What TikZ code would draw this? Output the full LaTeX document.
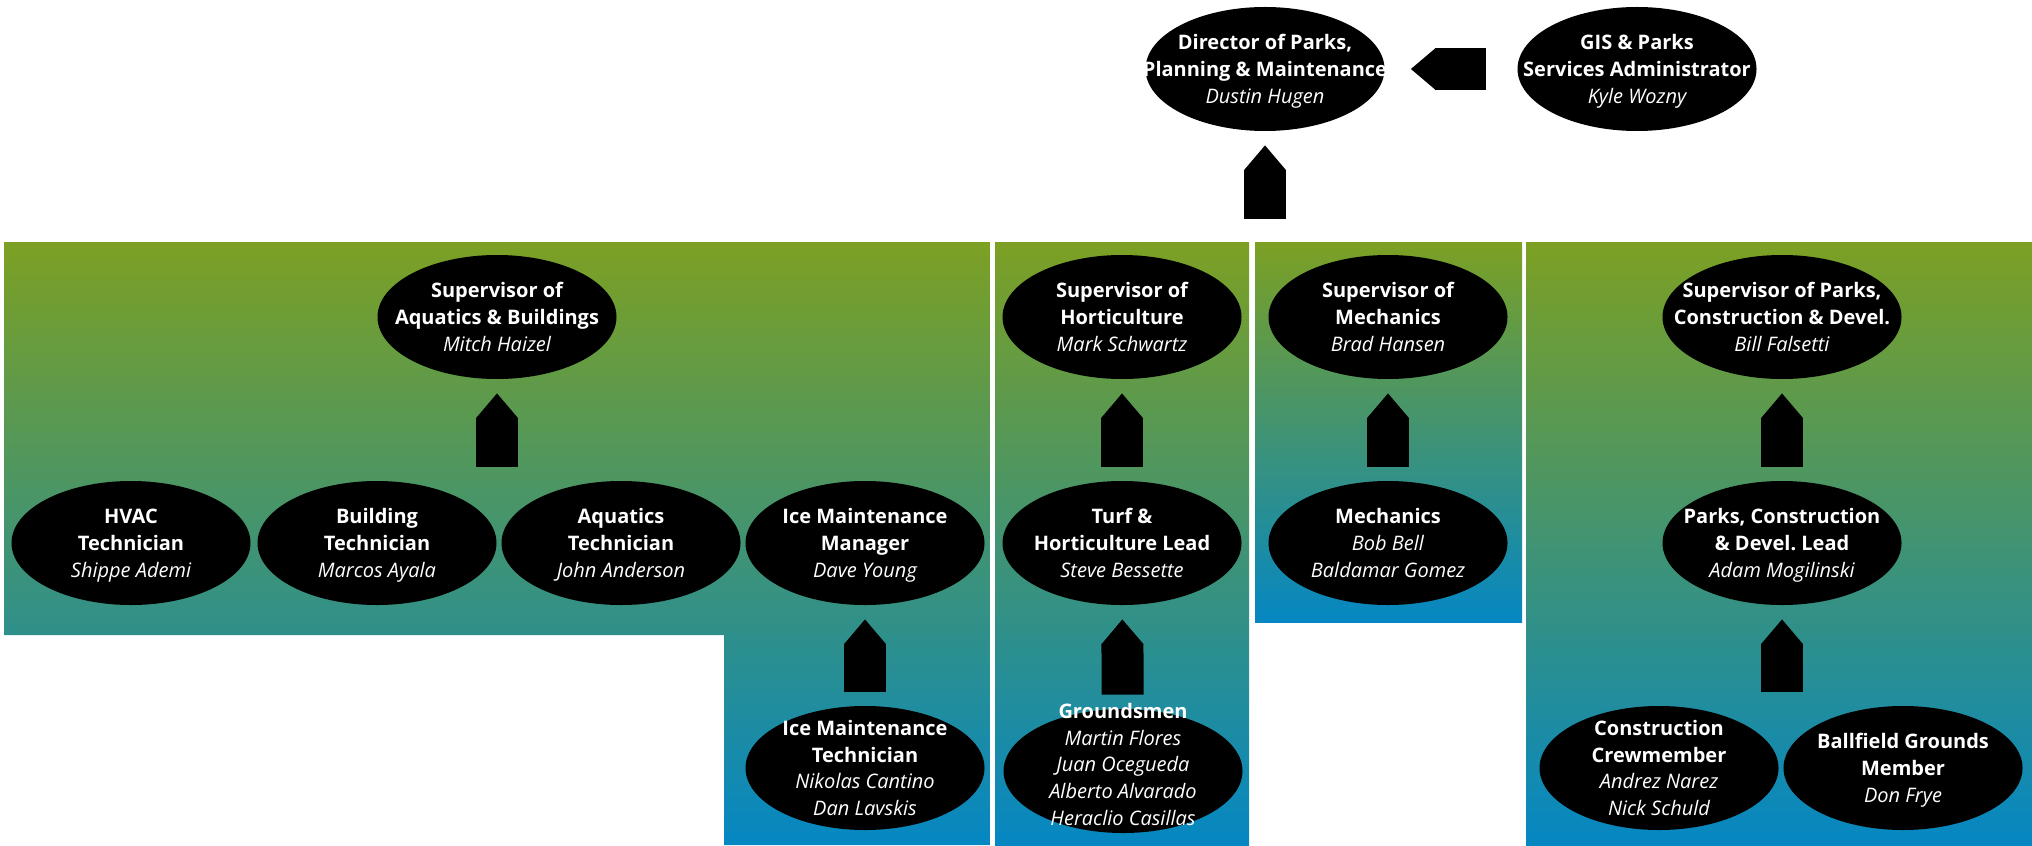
\documentclass[tikz,border=0pt]{standalone}
\usepackage{fontspec}
\setmainfont{Open Sans}
\usepackage{tikz}
\usetikzlibrary{shapes.geometric,arrows.meta}
\definecolor{panelgreen}{HTML}{7CA023}
\definecolor{panelblue}{HTML}{0587C3}
\newcommand{\who}[3][0pt]{\makebox[0pt]{\smash{\raisebox{\dimexpr #1-3.5pt\relax}{\begin{tabular}{@{}c@{}}\bfseries\begin{tabular}{@{}c@{}}#2\end{tabular}\\\itshape\begin{tabular}{@{}c@{}}#3\end{tabular}\end{tabular}}}}}
\begin{document}
\begin{tikzpicture}[x=0.5pt, y=-0.5pt,
  person/.style={ellipse, fill=black, text=white, minimum width=119.5pt, minimum height=62pt, inner sep=0pt, font=\fontsize{10}{13.3}\selectfont},
  panel/.style={top color=panelgreen, bottom color=panelblue},
  blockarrow/.style={line width=21pt, -{Triangle[length=12.5pt, width=21pt, line width=1pt]}, shorten >=7pt, shorten <=7pt}]
  \useasboundingbox (0,0) rectangle (2032,845);
  \shade[panel] (4,242) -- (990,242) -- (990,845) -- (724,845) -- (724,635) -- (4,635) -- cycle;
  \shade[panel] (995,242) rectangle (1249,845);
  \shade[panel] (1255,242) rectangle (1522,622);
  \shade[panel] (1526,242) rectangle (2032,845);

  \node[person] (dir) at (1265,69) {\who{Director of Parks,\\Planning \& Maintenance}{Dustin Hugen}};
  \node[person] (gis) at (1637,69) {\who{GIS \& Parks\\Services Administrator}{Kyle Wozny}};

  \node[person] (supab) at (497,317) {\who{Supervisor of\\Aquatics \& Buildings}{Mitch Haizel}};
  \node[person] (hvac) at (131,543) {\who{HVAC\\Technician}{Shippe Ademi}};
  \node[person] (bldg) at (377,543) {\who{Building\\Technician}{Marcos Ayala}};
  \node[person] (aqtech) at (621,543) {\who{Aquatics\\Technician}{John Anderson}};
  \node[person] (icemgr) at (865,543) {\who{Ice Maintenance\\Manager}{Dave Young}};
  \node[person] (icetech) at (865,768) {\who{Ice Maintenance\\Technician}{Nikolas Cantino\\Dan Lavskis}};

  \node[person] (suphort) at (1122,317) {\who{Supervisor of\\Horticulture}{Mark Schwartz}};
  \node[person] (turf) at (1122,543) {\who{Turf \&\\Horticulture Lead}{Steve Bessette}};
  \node[person] (grounds) at (1123,771) {\who[3.3pt]{Groundsmen}{Martin Flores\\Juan Ocegueda\\Alberto Alvarado\\Heraclio Casillas}};

  \node[person] (supmech) at (1388,317) {\who{Supervisor of\\Mechanics}{Brad Hansen}};
  \node[person] (mech) at (1388,543) {\who{Mechanics}{Bob Bell\\Baldamar Gomez}};

  \node[person] (supparks) at (1782,317) {\who{Supervisor of Parks,\\Construction \& Devel.}{Bill Falsetti}};
  \node[person] (parkslead) at (1782,543) {\who{Parks, Construction\\\& Devel.\ Lead}{Adam Mogilinski}};
  \node[person] (crew) at (1659,768) {\who{Construction\\Crewmember}{Andrez Narez\\Nick Schuld}};
  \node[person] (ballfield) at (1903,768) {\who{Ballfield Grounds\\Member}{Don Frye}};

  \coordinate (dirbase) at (1265,233);
  \coordinate (abbase) at (497,481);
  \coordinate (pcbase) at (1782,706);

  \draw[blockarrow, shorten <=15.75pt, shorten >=13pt] (gis) -- (dir);
  \draw[blockarrow] (dirbase) -- (dir);
  \draw[blockarrow] (abbase) -- (supab);
  \draw[blockarrow] (icetech) -- (icemgr);
  \draw[blockarrow] (turf) -- (suphort);
  \draw[blockarrow] (grounds) -- (turf);
  \draw[blockarrow] (mech) -- (supmech);
  \draw[blockarrow] (parkslead) -- (supparks);
  \draw[blockarrow] (pcbase) -- (parkslead);
\end{tikzpicture}
\end{document}
